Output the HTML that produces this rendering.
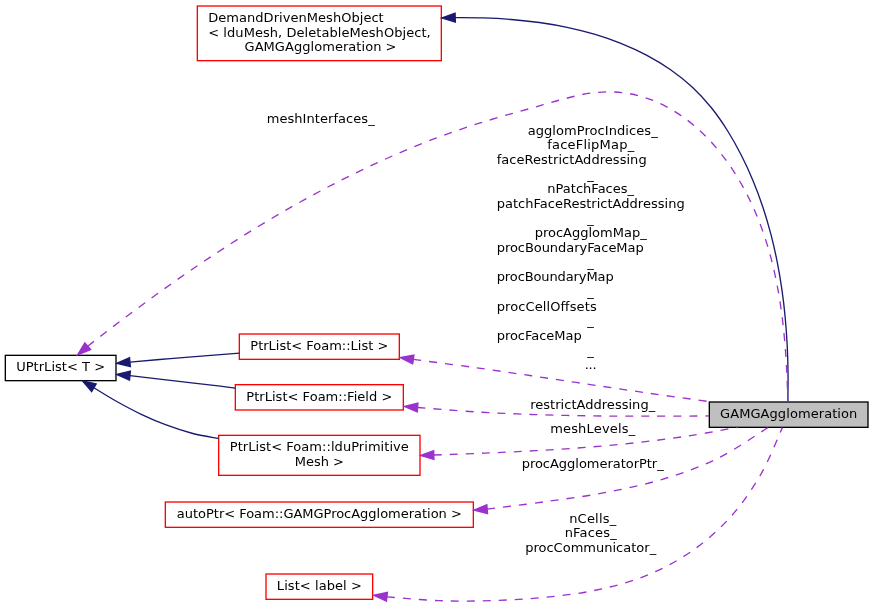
<!DOCTYPE html>
<html lang="en"><head><meta charset="utf-8"><title>GAMGAgglomeration collaboration graph</title>
<style>html,body{margin:0;padding:0;background:#fff;overflow:hidden}svg{display:block;will-change:transform}text{font-family:"DejaVu Sans","Liberation Sans",sans-serif;font-size:13px;fill:#000}</style></head><body>
<svg width="873" height="607" viewBox="0 0 873 607">
<rect x="0" y="0" width="873" height="607" fill="#fff"/>
<rect x="197.33" y="6.00" width="244.00" height="54.67" fill="#fff" stroke="#ff0000" stroke-width="1.3333"/>
<rect x="5.33" y="355.33" width="110.67" height="25.33" fill="#fff" stroke="#000" stroke-width="1.3333"/>
<rect x="239.33" y="334.00" width="160.00" height="25.33" fill="#fff" stroke="#ff0000" stroke-width="1.3333"/>
<rect x="235.33" y="384.67" width="168.00" height="25.33" fill="#fff" stroke="#ff0000" stroke-width="1.3333"/>
<rect x="218.67" y="435.33" width="201.33" height="40.00" fill="#fff" stroke="#ff0000" stroke-width="1.3333"/>
<rect x="165.33" y="502.00" width="308.00" height="25.33" fill="#fff" stroke="#ff0000" stroke-width="1.3333"/>
<rect x="266.00" y="574.00" width="106.67" height="25.33" fill="#fff" stroke="#ff0000" stroke-width="1.3333"/>
<rect x="709.33" y="402.00" width="158.67" height="25.33" fill="#bfbfbf" stroke="#000" stroke-width="1.3333"/>
<path d="M455.23,17.61 C459.89,17.66 473.88,17.62 483.23,17.93 C492.59,18.24 501.99,18.71 511.35,19.47 C520.70,20.23 530.07,21.20 539.36,22.51 C548.65,23.82 557.93,25.37 567.08,27.32 C576.24,29.26 585.35,31.50 594.31,34.18 C603.27,36.85 612.16,39.87 620.85,43.36 C629.54,46.86 638.17,50.75 646.46,55.14 C654.74,59.54 662.91,64.37 670.57,69.72 C678.23,75.07 685.62,80.90 692.43,87.24 C699.23,93.59 705.54,100.53 711.39,107.79 C717.24,115.04 722.56,122.85 727.55,130.76 C732.54,138.68 737.08,146.95 741.33,155.28 C745.58,163.61 749.46,172.13 753.04,180.76 C756.63,189.38 759.86,198.16 762.82,207.03 C765.78,215.89 768.42,224.88 770.80,233.94 C773.18,243.00 775.26,252.17 777.10,261.37 C778.94,270.57 780.50,279.86 781.84,289.17 C783.19,298.47 784.28,307.84 785.17,317.20 C786.06,326.56 786.71,335.96 787.19,345.33 C787.67,354.69 787.93,364.08 788.04,373.40 C788.15,382.73 787.88,396.65 787.85,401.30" fill="none" stroke="#191970" stroke-width="1.3333"/>
<polygon points="455.37,22.05 441.90,18.04 455.08,13.17" fill="#191970" stroke="#191970" stroke-width="1.3333" stroke-miterlimit="10"/>
<path d="M87.73,346.16 C91.89,342.95 104.34,333.25 112.73,326.87 C121.11,320.50 129.54,314.17 138.02,307.90 C146.50,301.64 155.03,295.44 163.61,289.31 C172.20,283.19 180.84,277.12 189.53,271.15 C198.23,265.18 206.98,259.28 215.79,253.48 C224.60,247.68 233.46,241.96 242.39,236.35 C251.32,230.75 260.31,225.23 269.37,219.83 C278.42,214.44 287.54,209.14 296.72,203.97 C305.91,198.81 315.16,193.75 324.48,188.83 C333.80,183.91 343.18,179.12 352.64,174.47 C362.10,169.82 371.63,165.29 381.23,160.94 C390.83,156.59 400.50,152.37 410.24,148.35 C419.98,144.32 429.78,140.45 439.66,136.79 C449.53,133.12 459.47,129.64 469.47,126.36 C479.47,123.07 489.55,120.06 499.66,117.08 C509.76,114.10 519.94,111.35 530.09,108.48 C540.25,105.61 550.38,102.43 560.61,99.85 C570.84,97.27 581.09,94.20 591.49,93.00 C601.89,91.80 612.69,91.40 623.03,92.67 C633.38,93.94 643.88,96.83 653.55,100.65 C663.22,104.47 672.47,109.73 681.07,115.58 C689.67,121.43 697.70,128.35 705.15,135.74 C712.61,143.13 719.48,151.38 725.79,159.91 C732.09,168.43 737.82,177.61 742.98,186.87 C748.13,196.14 752.67,205.77 756.73,215.49 C760.79,225.20 764.25,235.13 767.33,245.16 C770.41,255.19 772.96,265.39 775.20,275.66 C777.43,285.92 779.22,296.33 780.76,306.76 C782.30,317.18 783.46,327.71 784.44,338.22 C785.43,348.73 786.11,359.31 786.68,369.83 C787.26,380.35 787.70,396.10 787.90,401.35" fill="none" stroke="#9a32cd" stroke-width="1.3333" stroke-dasharray="8,8"/>
<polygon points="90.61,349.55 77.57,354.80 84.85,342.78" fill="#9a32cd" stroke="#9a32cd" stroke-width="1.3333" stroke-miterlimit="10"/>
<path d="M129.96,362.09 C136.70,361.51 155.33,359.85 170.40,358.60 C185.47,357.35 208.90,355.51 220.40,354.60 C231.90,353.69 236.23,353.39 239.40,353.15" fill="none" stroke="#191970" stroke-width="1.3333"/>
<polygon points="130.37,366.52 116.68,363.32 129.55,357.67" fill="#191970" stroke="#191970" stroke-width="1.3333" stroke-miterlimit="10"/>
<path d="M129.96,375.61 C136.70,376.40 155.33,378.60 170.40,380.35 C185.47,382.10 209.57,384.81 220.40,386.10 C231.23,387.39 232.90,387.77 235.40,388.10" fill="none" stroke="#191970" stroke-width="1.3333"/>
<polygon points="129.55,380.03 116.68,374.38 130.37,371.18" fill="#191970" stroke="#191970" stroke-width="1.3333" stroke-miterlimit="10"/>
<path d="M93.91,387.79 C97.79,390.12 109.32,397.35 117.21,401.78 C125.11,406.20 133.12,410.47 141.27,414.34 C149.43,418.20 157.71,421.83 166.15,424.98 C174.59,428.13 183.17,430.96 191.92,433.23 C200.67,435.50 214.20,437.70 218.65,438.60" fill="none" stroke="#191970" stroke-width="1.3333"/>
<polygon points="91.62,391.60 82.47,380.93 96.19,383.98" fill="#191970" stroke="#191970" stroke-width="1.3333" stroke-miterlimit="10"/>
<path d="M413.33,359.44 C423.19,360.74 452.78,364.53 472.47,367.25 C492.17,369.97 511.84,372.88 531.51,375.77 C551.18,378.66 570.84,381.67 590.51,384.60 C610.17,387.52 629.83,390.49 649.52,393.31 C669.20,396.13 698.75,400.14 708.60,401.50" fill="none" stroke="#9a32cd" stroke-width="1.3333" stroke-dasharray="8,8"/>
<polygon points="412.71,363.84 400.13,357.58 413.95,355.04" fill="#9a32cd" stroke="#9a32cd" stroke-width="1.3333" stroke-miterlimit="10"/>
<path d="M417.59,407.47 C427.29,408.21 456.37,410.71 475.78,411.89 C495.20,413.07 514.64,413.89 534.08,414.56 C553.52,415.22 572.98,415.59 592.43,415.86 C611.89,416.13 631.35,416.18 650.80,416.19 C670.26,416.21 699.43,415.99 709.15,415.95" fill="none" stroke="#9a32cd" stroke-width="1.3333" stroke-dasharray="8,8"/>
<polygon points="417.26,411.90 404.29,406.49 417.92,403.04" fill="#9a32cd" stroke="#9a32cd" stroke-width="1.3333" stroke-miterlimit="10"/>
<path d="M433.83,455.04 C442.30,454.72 467.72,453.85 484.67,453.12 C501.62,452.40 518.59,451.67 535.53,450.70 C552.48,449.74 569.43,448.69 586.34,447.34 C603.25,445.99 620.16,444.48 637.01,442.60 C653.86,440.72 670.69,438.62 687.46,436.07 C704.22,433.52 729.24,428.76 737.60,427.30" fill="none" stroke="#9a32cd" stroke-width="1.3333" stroke-dasharray="8,8"/>
<polygon points="433.95,459.48 420.50,455.40 433.71,450.60" fill="#9a32cd" stroke="#9a32cd" stroke-width="1.3333" stroke-miterlimit="10"/>
<path d="M487.18,509.10 C496.93,507.86 526.10,504.39 545.68,501.65 C565.25,498.91 585.17,496.41 604.62,492.68 C624.07,488.96 643.59,484.98 662.38,479.30 C681.17,473.61 699.77,467.19 717.35,458.58 C734.94,449.98 759.48,432.81 767.90,427.65" fill="none" stroke="#9a32cd" stroke-width="1.3333" stroke-dasharray="8,8"/>
<polygon points="487.55,513.52 473.89,510.19 486.82,504.67" fill="#9a32cd" stroke="#9a32cd" stroke-width="1.3333" stroke-miterlimit="10"/>
<path d="M386.93,596.84 C395.61,597.47 421.65,600.02 438.97,600.65 C456.30,601.28 473.49,601.13 490.87,600.60 C508.25,600.06 525.82,599.18 543.25,597.45 C560.68,595.73 578.44,593.83 595.47,590.23 C612.51,586.64 629.54,582.32 645.47,575.88 C661.40,569.44 676.96,561.32 691.06,551.59 C705.16,541.85 718.50,530.21 730.07,517.45 C741.64,504.69 751.74,489.99 760.47,475.02 C769.19,460.06 778.74,435.54 782.40,427.65" fill="none" stroke="#9a32cd" stroke-width="1.3333" stroke-dasharray="8,8"/>
<polygon points="386.43,601.25 373.69,595.33 387.44,592.42" fill="#9a32cd" stroke="#9a32cd" stroke-width="1.3333" stroke-miterlimit="10"/>
<g>
<text x="208.23" y="21.90" textLength="175.5" lengthAdjust="spacing">DemandDrivenMeshObject</text>
<text x="208.23" y="36.57" textLength="222.5" lengthAdjust="spacing">&lt; lduMesh, DeletableMeshObject,</text>
<text x="244.53" y="51.23" textLength="152" lengthAdjust="spacing">GAMGAgglomeration &gt;</text>
<text x="16.17" y="371.23" textLength="89.0" lengthAdjust="spacing">UPtrList&lt; T &gt;</text>
<text x="250.33" y="349.90" textLength="138.0" lengthAdjust="spacing">PtrList&lt; Foam::List &gt;</text>
<text x="246.33" y="400.57" textLength="146.0" lengthAdjust="spacing">PtrList&lt; Foam::Field &gt;</text>
<text x="229.83" y="451.23" textLength="179.0" lengthAdjust="spacing">PtrList&lt; Foam::lduPrimitive</text>
<text x="294.83" y="465.90" textLength="49.0" lengthAdjust="spacing">Mesh &gt;</text>
<text x="176.83" y="517.90" textLength="285.0" lengthAdjust="spacing">autoPtr&lt; Foam::GAMGProcAgglomeration &gt;</text>
<text x="276.83" y="589.90" textLength="85.0" lengthAdjust="spacing">List&lt; label &gt;</text>
<text x="720.02" y="417.90" textLength="137.3" lengthAdjust="spacing">GAMGAgglomeration</text>
<text x="266.70" y="122.90" textLength="108.0" lengthAdjust="spacing">meshInterfaces_</text>
<text x="527.67" y="134.90" textLength="130.0" lengthAdjust="spacing">agglomProcIndices_</text>
<text x="547.17" y="148.90" textLength="87" lengthAdjust="spacing">faceFlipMap_</text>
<text x="496.67" y="163.90" textLength="150.0" lengthAdjust="spacing">faceRestrictAddressing</text>
<text x="587.17" y="178.90" textLength="7.0" lengthAdjust="spacing">_</text>
<text x="547.27" y="192.90" textLength="86.8" lengthAdjust="spacing">nPatchFaces_</text>
<text x="496.67" y="207.90" textLength="188.0" lengthAdjust="spacing">patchFaceRestrictAddressing</text>
<text x="587.17" y="222.90" textLength="7.0" lengthAdjust="spacing">_</text>
<text x="534.67" y="236.90" textLength="112.0" lengthAdjust="spacing">procAgglomMap_</text>
<text x="496.67" y="251.90" textLength="147.0" lengthAdjust="spacing">procBoundaryFaceMap</text>
<text x="587.17" y="266.90" textLength="7.0" lengthAdjust="spacing">_</text>
<text x="496.67" y="280.90" textLength="117.0" lengthAdjust="spacing">procBoundaryMap</text>
<text x="587.17" y="295.90" textLength="7.0" lengthAdjust="spacing">_</text>
<text x="496.67" y="310.90" textLength="100.0" lengthAdjust="spacing">procCellOffsets</text>
<text x="587.17" y="324.90" textLength="7.0" lengthAdjust="spacing">_</text>
<text x="496.67" y="339.90" textLength="85.0" lengthAdjust="spacing">procFaceMap</text>
<text x="587.17" y="354.90" textLength="7.0" lengthAdjust="spacing">_</text>
<text x="584.67" y="368.90" textLength="12.0" lengthAdjust="spacing">...</text>
<text x="530.17" y="408.90" textLength="125.0" lengthAdjust="spacing">restrictAddressing_</text>
<text x="550.17" y="432.90" textLength="85.0" lengthAdjust="spacing">meshLevels_</text>
<text x="521.67" y="467.90" textLength="142.0" lengthAdjust="spacing">procAgglomeratorPtr_</text>
<text x="569.17" y="522.90" textLength="47.0" lengthAdjust="spacing">nCells_</text>
<text x="564.67" y="536.90" textLength="52.0" lengthAdjust="spacing">nFaces_</text>
<text x="525.17" y="551.90" textLength="131.0" lengthAdjust="spacing">procCommunicator_</text>
</g>
</svg></body></html>
